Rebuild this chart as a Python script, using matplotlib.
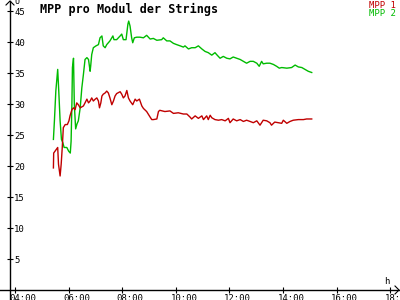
import matplotlib
matplotlib.use("Agg")
import matplotlib.pyplot as plt
import matplotlib.transforms as mtransforms
from matplotlib.lines import Line2D

# MPP 2 (green) - decimal hours / voltage per module
t_mpp2 = [5.43, 5.47, 5.52, 5.59, 5.63, 5.68, 5.73, 5.78, 5.83, 5.93, 6.00, 6.06, 6.09, 6.12,
          6.14, 6.18, 6.21, 6.26, 6.31, 6.36, 6.43, 6.49, 6.55, 6.61, 6.68, 6.74, 6.80, 6.82,
          6.86, 6.92, 7.02, 7.11, 7.17, 7.24, 7.29, 7.36, 7.42, 7.54, 7.65, 7.69, 7.79, 7.92,
          7.98, 8.04, 8.14, 8.21, 8.24, 8.29, 8.35, 8.39, 8.45, 8.54, 8.66, 8.79, 8.91, 9.04,
          9.16, 9.29, 9.47, 9.53, 9.66, 9.78, 9.91, 10.03, 10.16, 10.28, 10.34, 10.47, 10.59,
          10.72, 10.84, 10.97, 11.09, 11.21, 11.34, 11.46, 11.52, 11.65, 11.77, 11.90, 12.02,
          12.14, 12.27, 12.40, 12.52, 12.64, 12.77, 12.89, 13.02, 13.11, 13.20, 13.26, 13.39,
          13.51, 13.64, 13.76, 13.86, 13.95, 14.14, 14.32, 14.45, 14.57, 14.70, 14.82, 14.94, 15.07]
u_mpp2 = [24.3, 27.5, 32.1, 35.6, 32.1, 27.3, 24.3, 23.8, 23.0, 23.0, 22.4, 22.1, 24.0, 30.0,
          35.9, 37.4, 30.0, 26.0, 26.8, 27.3, 29.4, 32.6, 34.8, 37.2, 37.5, 37.2, 35.3, 36.1,
          38.0, 39.1, 39.4, 39.6, 40.7, 41.0, 39.4, 39.1, 39.6, 40.2, 41.0, 40.4, 40.4, 41.0,
          41.3, 40.4, 40.4, 42.9, 43.4, 42.6, 40.7, 39.9, 40.7, 40.8, 40.8, 40.7, 41.1, 40.5,
          40.6, 40.3, 40.4, 40.7, 40.2, 40.2, 39.8, 39.6, 39.4, 39.2, 39.4, 38.9, 39.1,
          39.1, 39.4, 38.9, 38.5, 38.3, 37.9, 38.3, 38.0, 37.4, 37.7, 37.4, 37.3,
          37.6, 37.4, 37.2, 36.9, 36.6, 36.9, 36.9, 36.6, 36.1, 36.9, 36.5, 36.6,
          36.6, 36.4, 36.1, 35.8, 35.9, 35.8, 35.9, 36.3, 36.0, 35.9, 35.6, 35.3, 35.1]

# MPP 1 (red)
t_mpp1 = [5.43, 5.44, 5.49, 5.59, 5.62, 5.68, 5.72, 5.76, 5.80, 5.87, 5.95, 6.01, 6.05, 6.12,
          6.18, 6.24, 6.30, 6.36, 6.43, 6.55, 6.61, 6.68, 6.74, 6.80, 6.86, 6.92, 6.99, 7.05,
          7.11, 7.15, 7.20, 7.24, 7.29, 7.36, 7.42, 7.48, 7.54, 7.61, 7.67, 7.73, 7.79, 7.92,
          7.98, 8.04, 8.10, 8.17, 8.23, 8.29, 8.39, 8.48, 8.54, 8.64, 8.73, 8.79, 8.91, 9.04,
          9.10, 9.16, 9.29, 9.35, 9.40, 9.59, 9.78, 9.91, 10.09, 10.28, 10.41, 10.53, 10.59,
          10.72, 10.84, 10.97, 11.03, 11.15, 11.21, 11.28, 11.34, 11.46, 11.59, 11.71, 11.84,
          11.96, 12.02, 12.14, 12.27, 12.40, 12.52, 12.64, 12.77, 12.89, 13.02, 13.14, 13.26,
          13.39, 13.51, 13.57, 13.69, 13.82, 13.95, 14.01, 14.14, 14.26, 14.38, 14.57, 14.76,
          14.88, 15.07]
u_mpp1 = [19.7, 22.1, 22.4, 23.0, 20.3, 18.4, 20.3, 23.0, 26.2, 26.7, 26.7, 27.3, 28.1, 29.1,
          29.4, 29.1, 30.2, 29.9, 29.4, 29.7, 30.2, 30.8, 30.2, 30.5, 31.0, 30.5, 30.8, 31.0,
          30.5, 29.4, 30.2, 31.3, 31.6, 31.8, 32.1, 31.8, 31.0, 29.9, 30.5, 31.3, 31.7, 32.0,
          31.6, 31.0, 31.3, 32.2, 31.0, 30.5, 29.9, 30.8, 30.5, 30.8, 29.7, 29.3, 28.8, 27.9,
          27.5, 27.5, 27.6, 28.8, 29.0, 28.8, 28.9, 28.5, 28.6, 28.4, 28.4, 27.9, 27.6,
          28.1, 27.7, 28.1, 27.5, 28.1, 27.5, 28.2, 27.8, 27.5, 27.4, 27.5, 27.3,
          27.7, 27.0, 27.6, 27.3, 27.5, 27.2, 27.4, 27.2, 27.0, 27.3, 26.6, 27.4,
          27.3, 27.0, 26.6, 27.1, 27.0, 26.9, 27.4, 26.9, 27.2, 27.4, 27.5, 27.5,
          27.6, 27.6]

y_ticks = [5, 10, 15, 20, 25, 30, 35, 40, 45]
x_ticks = [4, 6, 8, 10, 12, 14, 16, 18]
x_labels = ["04:00", "06:00", "08:00", "10:00", "12:00", "14:00", "16:00", "18:00"]

red = "#c00000"
green = "#00bb00"
mono = "DejaVu Sans Mono"

fig = plt.figure(figsize=(4, 3), dpi=100)
fig.patch.set_facecolor("white")
ax = fig.add_axes([10 / 400, 10 / 300, 388 / 400, 290 / 300])
ax.set_xlim(3.81, 18.29)
ax.set_ylim(0, 46.8)

ax.plot(t_mpp2, u_mpp2, color=green, lw=1)
ax.plot(t_mpp1, u_mpp1, color=red, lw=1)

for s in ax.spines.values():
    s.set_visible(False)

ax.set_yticks(y_ticks)
ax.set_yticklabels([str(v) for v in y_ticks])
ax.set_xticks(x_ticks)
ax.set_xticklabels(x_labels)
ax.tick_params(axis="both", direction="inout", length=4, width=0.8, color="black")
ax.tick_params(axis="y", pad=-5)
for lab in ax.get_yticklabels():
    lab.set_horizontalalignment("left")
    lab.set_fontfamily(mono)
    lab.set_fontsize(6.5)
ax.tick_params(axis="x", pad=1)
shift = mtransforms.ScaledTranslation(8 / 100, 0, fig.dpi_scale_trans)
for lab in ax.get_xticklabels():
    lab.set_fontfamily(mono)
    lab.set_fontsize(6.5)
    lab.set_transform(lab.get_transform() + shift)

# axis lines with arrows, drawn in figure pixels
W, H = 400, 300
fig.add_artist(Line2D([0, 399 / W], [10 / H, 10 / H], color="black", lw=1))
fig.add_artist(Line2D([10 / W, 10 / W], [0, 299 / H], color="black", lw=1))
fig.add_artist(Line2D([395 / W, 399 / W, 395 / W], [14 / H, 10 / H, 6 / H], color="black", lw=0.8))
fig.add_artist(Line2D([6 / W, 10 / W, 14 / W], [295 / H, 299 / H, 295 / H], color="black", lw=0.8))

fig.text(14 / W, 1 - 1 / H, "U", fontsize=6, family=mono, va="center", ha="left")
fig.text(387 / W, 1 - 281 / H, "h", fontsize=6.5, family=mono, va="center", ha="center")

fig.text(40 / W, 1 - 9 / H, "MPP pro Modul der Strings", fontsize=8.5, family=mono,
         fontweight="bold", va="center", ha="left")
fig.text(396 / W, 1 - 5 / H, "MPP 1", fontsize=6.5, family=mono, color=red, va="center", ha="right")
fig.text(396 / W, 1 - 13 / H, "MPP 2", fontsize=6.5, family=mono, color=green, va="center", ha="right")

fig.savefig("out.png", dpi=100, facecolor="white")
